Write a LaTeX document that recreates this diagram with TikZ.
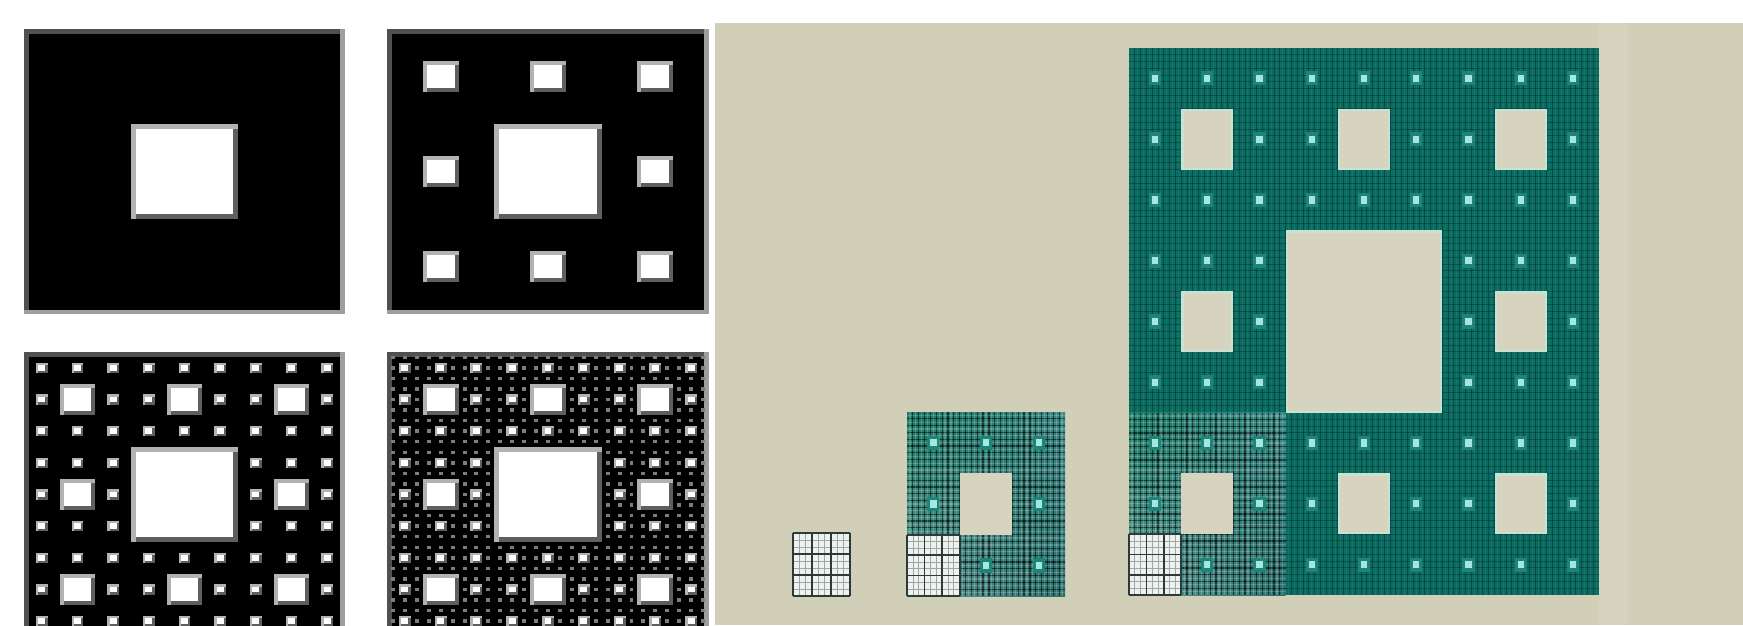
\documentclass[tikz,border=0pt]{standalone}
\usetikzlibrary{shadings}
\definecolor{beige}{RGB}{210,207,185}
\definecolor{beigehalo}{RGB}{214,211,191}
\definecolor{pdark}{RGB}{80,80,80}
\definecolor{plight}{RGB}{158,158,158}
\definecolor{hlight}{RGB}{178,178,178}
\definecolor{hdark}{RGB}{95,95,95}
\definecolor{hfour}{RGB}{125,125,125}
\definecolor{tealdark}{RGB}{12,108,98}
\definecolor{teallines}{RGB}{4,50,52}
\definecolor{tealglint}{RGB}{40,170,130}
\definecolor{dotglow}{RGB}{30,132,120}
\definecolor{dotbright}{RGB}{165,230,224}
\definecolor{holefill}{RGB}{214,211,190}
\definecolor{holeedge}{RGB}{198,226,210}
\definecolor{whitish}{RGB}{238,242,238}
\definecolor{wline}{RGB}{45,58,58}
\definecolor{mUL}{RGB}{25,122,102}
\definecolor{mUR}{RGB}{55,135,130}
\definecolor{mLL}{RGB}{95,155,150}
\definecolor{mLR}{RGB}{40,112,108}

\def\cells{0/0,0/1,0/2,1/0,1/2,2/0,2/1,2/2}

% ---------- left panels ----------
\newcommand\hole[5]{%
  \fill[hlight] ({#1},{#2}) rectangle ++({#3},{#4});
  \fill[hdark] ({#1+#5},{#2+#5}) rectangle ({#1+#3},{#2+#4});
  \fill[white] ({#1+#5},{#2+#5}) rectangle ({#1+#3-#5},{#2+#4-#5});
}
\newcommand\panelframe{%
  \fill[black] (\PX,\PY) rectangle ++(\PW,\PH);
  \fill[pdark] (\PX,\PY) rectangle ++(\PW,4.5);
  \fill[pdark] (\PX,\PY) rectangle ++(5,\PH);
  \fill[plight] ({\PX+\PW-5},\PY) rectangle ++(5,\PH);
  \fill[plight] (\PX,{\PY+\PH-4}) rectangle ++(\PW,4);
}
\newcommand\lvlone[1]{\hole{\PX+\PW/3}{\PY+\PH/3}{\PW/3}{\PH/3}{#1}}
\newcommand\lvltwo[1]{\foreach \xa/\ya in \cells {\hole{\PX+\PW/9*(3*\xa+1)}{\PY+\PH/9*(3*\ya+1)}{\PW/9}{\PH/9}{#1}}}
\newcommand\lvlthree[1]{\foreach \xa/\ya in \cells {\foreach \xb/\yb in \cells {\hole{\PX+\PW/27*(9*\xa+3*\xb+1)}{\PY+\PH/27*(9*\ya+3*\yb+1)}{\PW/27}{\PH/27}{#1}}}}
\newcommand\lvlfour{\foreach \xa/\ya in \cells {\foreach \xb/\yb in \cells {\foreach \xc/\yc in \cells {\fill[hfour] ({\PX+\PW/81*(27*\xa+9*\xb+3*\xc+1)},{\PY+\PH/81*(27*\ya+9*\yb+3*\yc+1)}) rectangle ++({\PW/81},{\PH/81});}}}}

% ---------- right side ----------
\newcommand\tealdot[4]{%
  \fill[dotglow] ({#1+0.15*(#3)},{#2+0.15*(#4)}) rectangle ++({0.7*(#3)},{0.7*(#4)});
  \fill[dotbright] ({#1+0.32*(#3)},{#2+0.32*(#4)}) rectangle ++({0.36*(#3)},{0.36*(#4)});
}
\newcommand\beigehole[4]{%
  \fill[holeedge] ({#1},{#2}) rectangle ++({#3},{#4});
  \fill[holefill] ({#1+2.5},{#2+2.5}) rectangle ({#1+#3-2},{#2+#4-2});
}
\newcommand\whiteblock[4]{%
  \fill[whitish] ({#1},{#2}) rectangle ++({#3},{#4});
  \foreach \i in {1,2,4,5,7,8} {
    \draw[wline!45, line width=0.7] ({#1+(#3)/9*\i},{#2}) -- ++(0,{#4});
    \draw[wline!45, line width=0.7] ({#1},{#2+(#4)/9*\i}) -- ++({#3},0);
  }
  \foreach \i in {0,...,3} {
    \draw[wline, line width=1.8] ({#1+(#3)/3*\i},{#2}) -- ++(0,{#4});
    \draw[wline, line width=1.8] ({#1},{#2+(#4)/3*\i}) -- ++({#3},0);
  }
}
\newcommand\medcarpet[4]{%
  \shade[upper left=mUL, upper right=mUR, lower left=mLL, lower right=mLR] ({#1},{#2}) rectangle ++({#3},{#4});
  \foreach \i in {1,...,26} {
    \draw[black, opacity=0.55, line width=1.2] ({#1+(#3)/27*\i},{#2}) -- ++(0,{#4});
    \draw[black, opacity=0.55, line width=1.2] ({#1},{#2+(#4)/27*\i}) -- ++({#3},0);
  }
  \foreach \i in {0,...,26} {
    \draw[white, opacity=0.18, line width=1.2] ({#1+(#3)/27*(\i+0.5)},{#2}) -- ++(0,{#4});
    \draw[white, opacity=0.18, line width=1.2] ({#1},{#2+(#4)/27*(\i+0.5)}) -- ++({#3},0);
  }
  \fill[holefill] ({#1+(#3)/3},{#2+(#4)/3}) rectangle ++({(#3)/3},{(#4)/3});
  \foreach \xa/\ya in \cells {\tealdot{#1+(#3)/9*(3*\xa+1)}{#2+(#4)/9*(3*\ya+1)}{(#3)/9}{(#4)/9}}
  \whiteblock{#1}{#2+(#4)/3*2}{(#3)/3}{(#4)/3}
}

\begin{document}
\begin{tikzpicture}[x=1pt,y=-1pt]
\useasboundingbox (0,0) rectangle (1743,625);
\clip (0,0) rectangle (1743,625);
\fill[white] (0,0) rectangle (1743,625);

% panel 1
\def\PX{24}\def\PY{29}\def\PW{321}\def\PH{285}
\panelframe
\lvlone{5}
% panel 2
\def\PX{387}\def\PY{29}\def\PW{322}\def\PH{285}
\panelframe
\lvlone{5}
\lvltwo{4}
% panel 3
\def\PX{24}\def\PY{352}\def\PW{321}\def\PH{285}
\panelframe
\lvlone{5}
\lvltwo{4}
\lvlthree{2.5}
% panel 4
\def\PX{387}\def\PY{352}\def\PW{322}\def\PH{285}
\panelframe
\lvlone{5}
\lvltwo{4}
\lvlthree{2.5}
\lvlfour

% beige field
\fill[beige] (715,23) rectangle (1743,625);
\fill[beigehalo] (1599,23) rectangle (1628,625);

% small carpet
\whiteblock{793}{533}{57}{63}

% medium carpet
\medcarpet{907}{412}{158}{184}

% big carpet
\def\BX{1129}\def\BY{48}\def\BW{470}\def\BH{547}
\fill[tealdark] (\BX,\BY) rectangle ++(\BW,\BH);
\foreach \i in {1,...,80} {
  \draw[teallines, opacity=0.55, line width=1] ({\BX+\BW/81*\i},\BY) -- ++(0,\BH);
  \draw[teallines, opacity=0.55, line width=1] (\BX,{\BY+\BH/81*\i}) -- ++(\BW,0);
}
\foreach \i in {0,...,80} {
  \draw[tealglint, opacity=0.18, line width=1] ({\BX+\BW/81*(\i+0.5)},\BY) -- ++(0,\BH);
}
\beigehole{\BX+\BW/3}{\BY+\BH/3}{\BW/3}{\BH/3}
\foreach \xa/\ya in \cells {\beigehole{\BX+\BW/9*(3*\xa+1)}{\BY+\BH/9*(3*\ya+1)}{\BW/9}{\BH/9}}
\foreach \xa/\ya in \cells {\foreach \xb/\yb in \cells {\tealdot{\BX+\BW/27*(9*\xa+3*\xb+1)}{\BY+\BH/27*(9*\ya+3*\yb+1)}{\BW/27}{\BH/27}}}
\medcarpet{\BX}{\BY+\BH/3*2}{\BW/3}{\BH/3}
\end{tikzpicture}
\end{document}
